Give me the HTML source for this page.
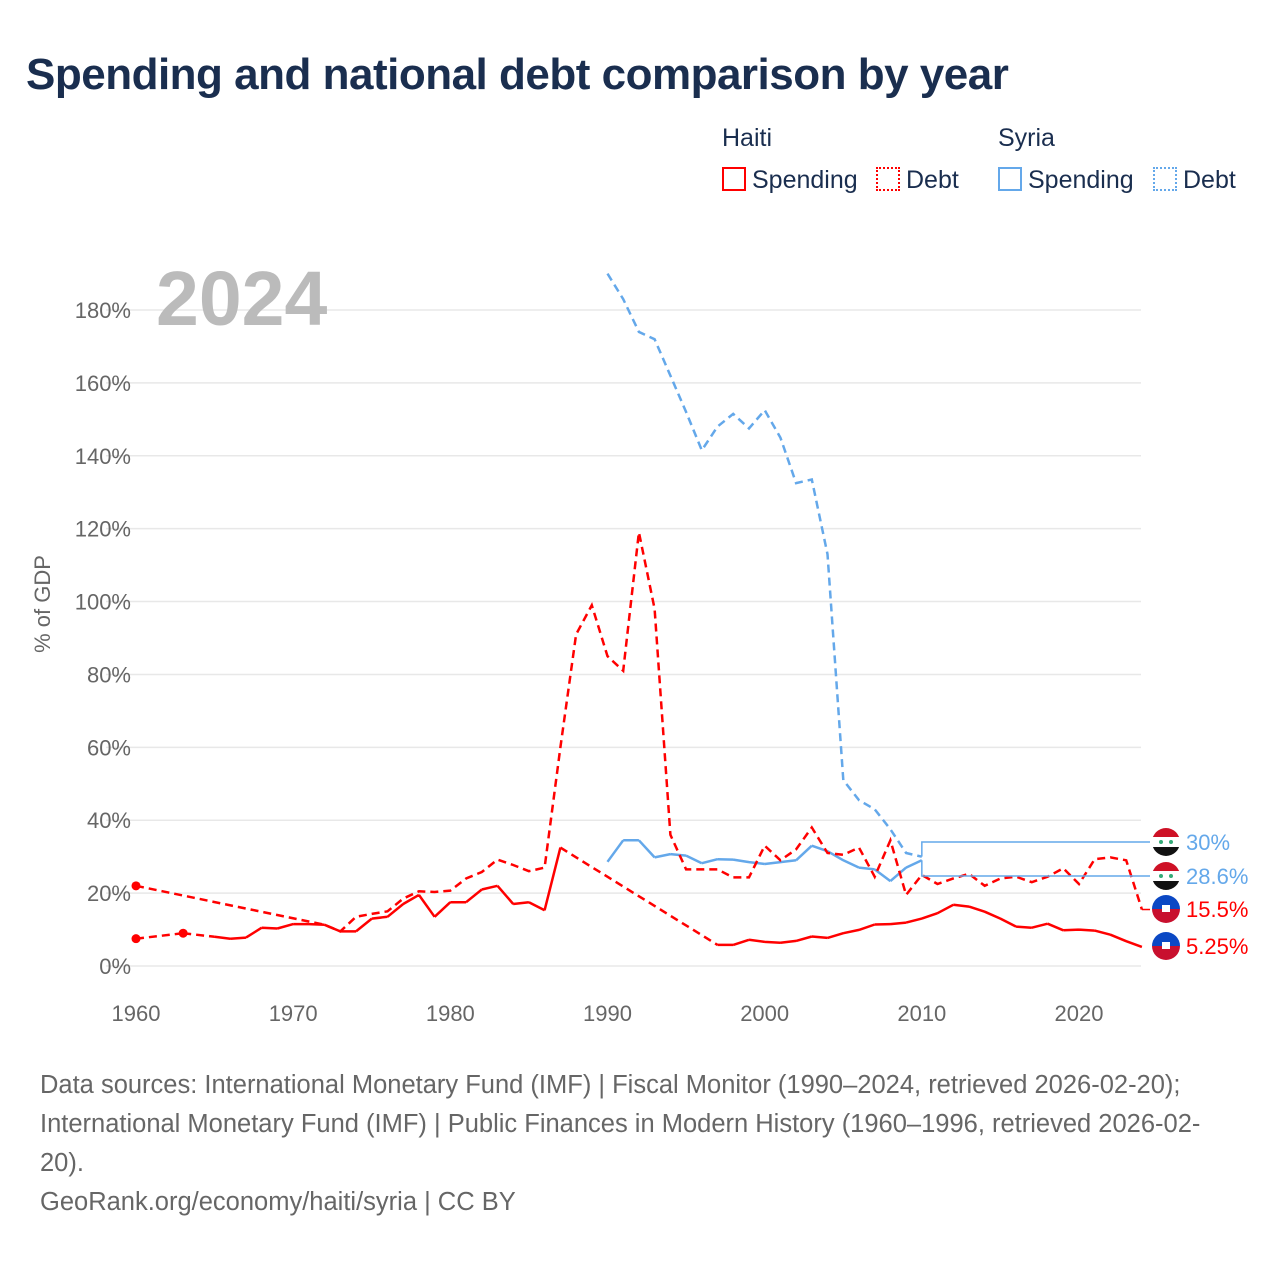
<!DOCTYPE html>
<html><head><meta charset="utf-8"><style>
body{margin:0;background:#fff;font-family:"Liberation Sans",sans-serif;}
#wrap{position:relative;width:1280px;height:1280px;overflow:hidden}
.t{position:absolute;white-space:nowrap}
</style></head><body>
<div id="wrap">
<div class="t" style="left:26px;top:50px;font-size:44px;font-weight:bold;color:#1a2e4f;letter-spacing:-0.5px">Spending and national debt comparison by year</div>
<div class="t" style="left:722px;top:124px;font-size:25px;color:#1a2e4f">Haiti</div>
<div class="t" style="left:998px;top:124px;font-size:25px;color:#1a2e4f">Syria</div>
<div class="t" style="left:722px;top:166px;font-size:25px;color:#1a2e4f"><span style="display:inline-block;width:20px;height:20px;border:2px solid #f00;vertical-align:-3px;margin-right:6px"></span>Spending</div>
<div class="t" style="left:876px;top:166px;font-size:25px;color:#1a2e4f"><span style="display:inline-block;width:20px;height:20px;border:2px dotted #f00;vertical-align:-3px;margin-right:6px"></span>Debt</div>
<div class="t" style="left:998px;top:166px;font-size:25px;color:#1a2e4f"><span style="display:inline-block;width:20px;height:20px;border:2px solid #64a8ea;vertical-align:-3px;margin-right:6px"></span>Spending</div>
<div class="t" style="left:1153px;top:166px;font-size:25px;color:#1a2e4f"><span style="display:inline-block;width:20px;height:20px;border:2px dotted #64a8ea;vertical-align:-3px;margin-right:6px"></span>Debt</div>
<svg id="chart" width="1280" height="1280" style="position:absolute;left:0;top:0"></svg>
<div class="t" style="left:40px;top:1066px;font-size:25.5px;line-height:39px;color:#666">Data sources: International Monetary Fund (IMF) | Fiscal Monitor (1990–2024, retrieved 2026-02-20);<br>International Monetary Fund (IMF) | Public Finances in Modern History (1960–1996, retrieved 2026-02-<br>20).<br>GeoRank.org/economy/haiti/syria | CC BY</div>
</div>
<script>
const yTicks=[0,20,40,60,80,100,120,140,160,180];
const xTicks=[1960,1970,1980,1990,2000,2010,2020];
const haitiSpendYears=[1960,1963,1965,1966,1967,1968,1969,1970,1971,1972,1973,1974,1975,1976,1977,1978,1979,1980,1981,1982,1983,1984,1985,1986,1987,1997,1998,1999,2000,2001,2002,2003,2004,2005,2006,2007,2008,2009,2010,2011,2012,2013,2014,2015,2016,2017,2018,2019,2020,2021,2022,2023,2024];
const haitiSpend=[7.5,9,8,7.5,7.8,10.5,10.3,11.5,11.5,11.3,9.5,9.5,13,13.5,17,19.5,13.5,17.5,17.5,21,22,17,17.5,15.3,32.5,5.8,5.8,7.2,6.6,6.4,6.9,8.1,7.7,9,9.9,11.4,11.5,11.9,13,14.5,16.8,16.3,14.9,13,10.8,10.5,11.6,9.8,10,9.7,8.6,6.8,5.25];
const haitiDebtYears=[1960,1972,1973,1974,1975,1976,1977,1978,1979,1980,1981,1982,1983,1984,1985,1986,1987,1988,1989,1990,1991,1992,1993,1994,1995,1996,1997,1998,1999,2000,2001,2002,2003,2004,2005,2006,2007,2008,2009,2010,2011,2012,2013,2014,2015,2016,2017,2018,2019,2020,2021,2022,2023,2024];
const haitiDebt=[22,11.3,9.5,13.5,14.3,15,18.5,20.5,20.3,20.7,24,25.8,29.2,27.7,26,27,60,91,99,85,81,119,98,36,26.5,26.5,26.5,24.3,24.3,33,29,32,38,31,30.5,32.5,24.5,34.5,19.5,25,22.5,24,25.3,22,24,24.5,23,24.5,26.8,22.5,29.3,29.8,29,15.5];
const syriaYears=[1990,1991,1992,1993,1994,1995,1996,1997,1998,1999,2000,2001,2002,2003,2004,2005,2006,2007,2008,2009,2010];
const syriaSpend=[28.6,34.5,34.5,29.8,30.7,30.3,28.2,29.3,29.2,28.5,28,28.5,29,33,31.5,29,27,26.5,23.3,27,29];
const syriaDebt=[190,183,174,172,162,152,141.5,148,151.5,147.5,152.5,145,132.5,133.5,113,51,45.5,43,37.5,31,30];
const endLabels=["30%","28.6%","15.5%","5.25%"];

const NS="http://www.w3.org/2000/svg";
const svg=document.getElementById('chart');
const X=yr=>136+(yr-1960)*(1079-136)/60;
const Y=v=>966-v*(966-310)/180;
function el(tag,attrs,parent){const e=document.createElementNS(NS,tag);for(const k in attrs)e.setAttribute(k,attrs[k]);(parent||svg).appendChild(e);return e;}
yTicks.forEach(v=>{
  const g=el('line',{x1:106,x2:1141,y1:Y(v),y2:Y(v),stroke:'#e8e8e8','stroke-width':1.5});
  
  
  const t=el('text',{x:131,y:Y(v)+8,'text-anchor':'end','font-size':22,fill:'#666','font-family':'Liberation Sans, sans-serif'});
  t.textContent=v+'%';
  
  
});
xTicks.forEach(v=>{
  const t=el('text',{x:X(v),y:1021,'text-anchor':'middle','font-size':22,fill:'#666','font-family':'Liberation Sans, sans-serif'});
  t.textContent=v;
  
  
});
const yt=el('text',{x:0,y:0,transform:'translate(50,604) rotate(-90)','text-anchor':'middle','font-size':22,fill:'#666','font-family':'Liberation Sans, sans-serif'});
yt.textContent='% of GDP';


const yr=el('text',{x:156,y:325,'font-size':77,'font-weight':'bold',fill:'#bbb','font-family':'Liberation Sans, sans-serif'});
yr.textContent='2024';



function pathOf(ys,vs){return ys.map((y,i)=>(i?'L':'M')+X(y).toFixed(1)+','+Y(vs[i]).toFixed(1)).join('');}
function solidWithGaps(ys,vs,color,name){
  let d='',g='';
  for(let i=1;i<ys.length;i++){
    const seg='M'+X(ys[i-1]).toFixed(1)+','+Y(vs[i-1]).toFixed(1)+'L'+X(ys[i]).toFixed(1)+','+Y(vs[i]).toFixed(1);
    if(ys[i]-ys[i-1]>1)g+=seg;else d+=seg;
  }
  const p=el('path',{d:d,fill:'none',stroke:color,'stroke-width':2.5,'stroke-linejoin':'round'});
  
  
  const q=el('path',{d:g,fill:'none',stroke:color,'stroke-width':2.5,'stroke-dasharray':'8,5'});
  
  
}
function dashed(ys,vs,color,name){
  const p=el('path',{d:pathOf(ys,vs),fill:'none',stroke:color,'stroke-width':2.5,'stroke-dasharray':'8,5'});
  
  
}
dashed(syriaYears,syriaDebt,'#64a8ea','syria-debt');
solidWithGaps(syriaYears,syriaSpend,'#64a8ea','syria-spending');
dashed(haitiDebtYears,haitiDebt,'#f00','haiti-debt');
solidWithGaps(haitiSpendYears,haitiSpend,'#f00','haiti-spending');
[[haitiSpendYears[0],haitiSpend[0]],[haitiSpendYears[1],haitiSpend[1]],[haitiDebtYears[0],haitiDebt[0]]].forEach(p=>{
  const c=el('circle',{cx:X(p[0]),cy:Y(p[1]),r:4.5,fill:'#f00'});
  
  
});
const lx=X(2010), ex=X(2024);
const c1=el('path',{d:`M${lx},${Y(syriaDebt[syriaDebt.length-1])}V842H1150`,fill:'none',stroke:'#64a8ea','stroke-width':1.5});


const c2=el('path',{d:`M${lx},${Y(syriaSpend[syriaSpend.length-1])}V876H1150`,fill:'none',stroke:'#64a8ea','stroke-width':1.5});


const c3=el('path',{d:`M${ex},${Y(haitiDebt[haitiDebt.length-1])}H1150`,fill:'none',stroke:'#f00','stroke-width':1.5});


const labs=[[842,'syria','#64a8ea'],[876,'syria','#64a8ea'],[909,'haiti','#f00'],[946,'haiti','#f00']];
labs.forEach((l,i)=>{
  const g=el('g',{});
  
  
  const cid='clip'+i;
  const cp=el('clipPath',{id:cid},g);el('circle',{cx:1166,cy:l[0],r:14},cp);
  const gg=el('g',{'clip-path':`url(#${cid})`},g);
  if(l[1]==='syria'){
    el('rect',{x:1150,y:l[0]-15,width:32,height:10,fill:'#ce1126'},gg);
    el('rect',{x:1150,y:l[0]-5,width:32,height:10,fill:'#fff'},gg);
    el('rect',{x:1150,y:l[0]+5,width:32,height:10,fill:'#111'},gg);
    el('circle',{cx:1161,cy:l[0],r:2,fill:'#3a7'},gg);el('circle',{cx:1171,cy:l[0],r:2,fill:'#3a7'},gg);
  }else{
    el('rect',{x:1150,y:l[0]-15,width:32,height:15,fill:'#0b48c4'},gg);
    el('rect',{x:1150,y:l[0],width:32,height:15,fill:'#c8102e'},gg);
    el('rect',{x:1162,y:l[0]-4,width:8,height:7,fill:'#fff'},gg);
  }
  const t=el('text',{x:1186,y:l[0]+8,'font-size':22,fill:l[2],'font-family':'Liberation Sans, sans-serif'});
  t.textContent=endLabels[i];
  
  
});
</script>
</body></html>
